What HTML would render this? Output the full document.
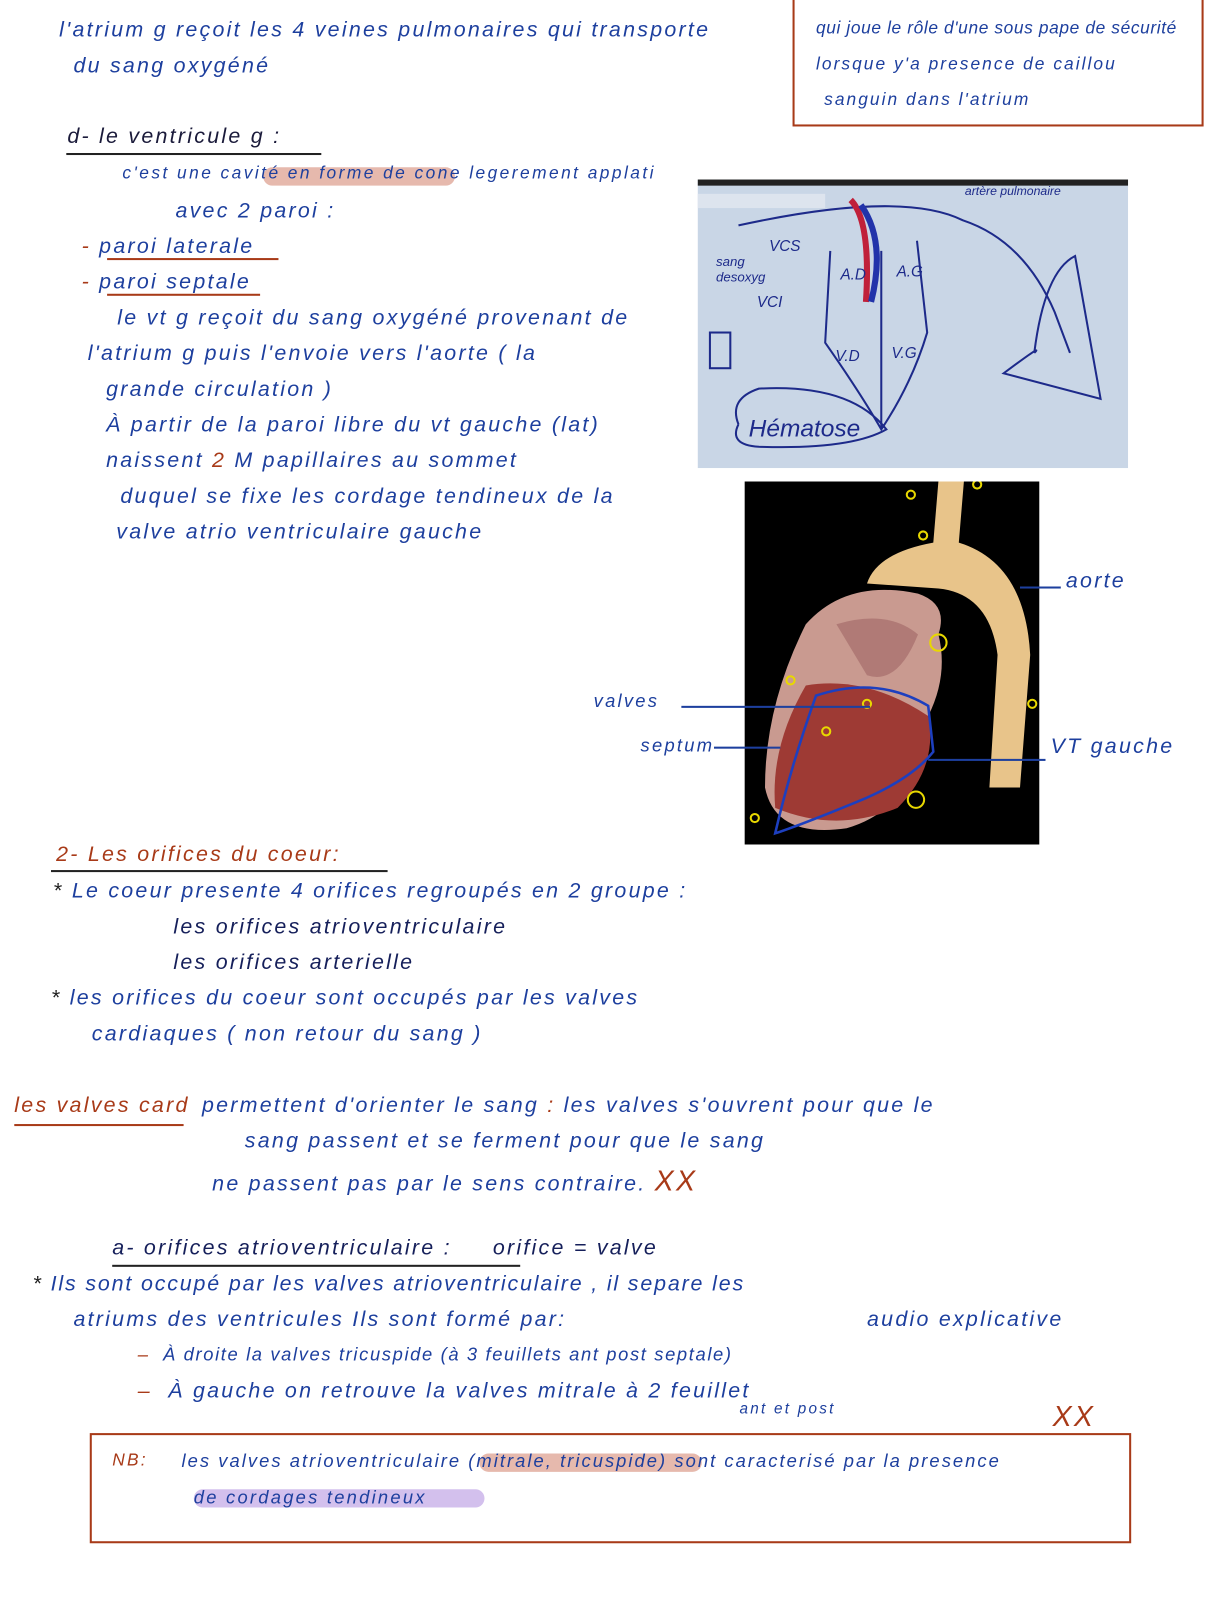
<!DOCTYPE html>
<html><head><meta charset="utf-8"><style>
body{margin:0;width:1224px;height:1607px;background:#fff;position:relative;overflow:hidden;font-family:"Liberation Sans",sans-serif;font-style:italic}
#w{position:absolute;left:0;top:0;width:1200px;height:1575px;transform:scale(1.02);transform-origin:0 0}
.t{position:absolute;color:#1d3f9e;font-size:21px;white-space:nowrap;letter-spacing:2.2px}
.r{color:#a83a18}
.ul{position:absolute;height:2px;background:#5a1f10}
</style></head><body><div id="w">
<div class="t" style="left:58px;top:18px">l'atrium g reçoit les 4 veines pulmonaires qui transporte</div>
<div class="t" style="left:72px;top:53px">du sang oxygéné</div>
<div style="position:absolute;left:777px;top:-2px;width:399px;height:122px;border:2px solid #a83a18"></div>
<div class="t" style="left:800px;top:18px;font-size:17px;letter-spacing:.6px">qui joue le rôle d'une sous pape de sécurité</div>
<div class="t" style="left:800px;top:53px;font-size:17px;letter-spacing:2px">lorsque y'a presence de caillou</div>
<div class="t" style="left:808px;top:88px;font-size:17px;letter-spacing:2px">sanguin dans l'atrium</div>

<div class="t" style="left:66px;top:122px;color:#1a1a3a">d- le ventricule g :</div>
<div class="ul" style="left:65px;top:150px;width:250px;background:#222"></div>
<div style="position:absolute;left:258px;top:164px;width:188px;height:18px;background:#e0a898;border-radius:9px;opacity:.8"></div>
<div class="t" style="left:120px;top:160px;font-size:17px;letter-spacing:2.4px">c'est une cavité en forme de cone legerement applati</div>
<div class="t" style="left:172px;top:195px">avec 2 paroi :</div>
<div class="t" style="left:80px;top:230px"><span class="r">-</span> paroi laterale</div>
<div class="ul" style="left:105px;top:253px;width:168px;background:#a83a18"></div>
<div class="t" style="left:80px;top:265px"><span class="r">-</span> paroi septale</div>
<div class="ul" style="left:105px;top:288px;width:150px;background:#a83a18"></div>
<div class="t" style="left:115px;top:300px">le vt g reçoit du sang oxygéné provenant de</div>
<div class="t" style="left:86px;top:335px">l'atrium g puis l'envoie vers l'aorte ( la</div>
<div class="t" style="left:104px;top:370px">grande circulation )</div>
<div class="t" style="left:104px;top:405px">À partir de la paroi libre du vt gauche (lat)</div>
<div class="t" style="left:104px;top:440px">naissent <span class="r">2</span> M papillaires au sommet</div>
<div class="t" style="left:118px;top:475px">duquel se fixe les cordage tendineux de la</div>
<div class="t" style="left:114px;top:510px">valve atrio ventriculaire gauche</div>

<svg style="position:absolute;left:684px;top:176px" width="422" height="283">
<rect width="422" height="283" fill="#c9d6e6"/><rect width="422" height="6" fill="#222"/>
<rect x="0" y="14" width="125" height="14" fill="#dde4ee"/>
<g fill="none" stroke="#1d2a8a" stroke-width="2">
<path d="M40 45 Q200 10 260 40 Q320 60 350 130 L365 170"/>
<path d="M130 70 L125 160 Q160 210 180 245 Q210 200 225 150 L215 60"/>
<path d="M180 70 L180 245"/>
<path d="M330 170 Q340 90 370 75 L395 215 L300 190 Q340 160 330 170"/>
<path d="M40 240 Q30 215 60 205 Q150 200 185 245 Q150 265 60 262 Q30 260 40 240"/>
<rect x="12" y="150" width="20" height="35"/>
</g>
<path d="M150 20 Q170 40 165 120" stroke="#c0203a" stroke-width="6" fill="none"/>
<path d="M160 25 Q185 60 170 120" stroke="#2233aa" stroke-width="6" fill="none"/>
<g fill="#1d2a8a" font-family="Liberation Sans" font-size="15">
<text x="70" y="70">VCS</text><text x="18" y="85" font-size="13">sang</text><text x="18" y="100" font-size="13">desoxyg</text>
<text x="58" y="125">VCI</text><text x="140" y="98">A.D</text><text x="195" y="95">A.G</text>
<text x="135" y="178">V.D</text><text x="190" y="175">V.G</text>
<text x="50" y="252" font-size="24">Hématose</text>
<text x="262" y="15" font-size="12">artère pulmonaire</text></g>
</svg>

<svg style="position:absolute;left:730px;top:472px" width="289" height="356">
<rect width="289" height="356" fill="#000"/>
<path d="M190 0 L215 0 L210 60 Q275 80 280 170 L270 300 L240 300 L248 170 Q240 110 190 105 L120 100 Q130 70 185 60Z" fill="#e8c48a"/>
<path d="M60 140 Q100 95 170 110 Q200 120 190 150 Q200 190 180 230 Q170 320 100 340 Q30 350 20 300 Q20 220 60 140Z" fill="#c99a90"/>
<path d="M60 200 Q120 190 180 230 Q190 280 150 320 Q90 345 30 320 Q25 260 60 200Z" fill="#9e3a34"/>
<path d="M90 140 Q140 125 170 150 Q150 200 120 190Z" fill="#b07a76"/>
<path d="M70 210 Q130 190 180 220 L185 265 Q165 290 120 310 Q60 335 30 345 Q45 280 70 210Z" fill="none" stroke="#1d3fbf" stroke-width="2.5"/>
<g fill="none" stroke="#e8d800" stroke-width="2"><circle cx="190" cy="158" r="8"/><circle cx="168" cy="312" r="8"/><circle cx="120" cy="218" r="4"/><circle cx="80" cy="245" r="4"/><circle cx="45" cy="195" r="4"/><circle cx="163" cy="13" r="4"/><circle cx="175" cy="53" r="4"/><circle cx="228" cy="3" r="4"/><circle cx="282" cy="218" r="4"/><circle cx="10" cy="330" r="4"/></g>
</svg>
<div class="ul" style="left:1000px;top:575px;width:40px;background:#1d3f9e"></div>
<div class="t" style="left:1045px;top:558px">aorte</div>
<div class="t" style="left:582px;top:677px;font-size:18px">valves</div>
<div class="ul" style="left:668px;top:692px;width:185px;background:#1d3f9e"></div>
<div class="t" style="left:628px;top:721px;font-size:18px">septum</div>
<div class="ul" style="left:700px;top:732px;width:65px;background:#1d3f9e"></div>
<div class="ul" style="left:910px;top:744px;width:115px;background:#1d3f9e"></div>
<div class="t" style="left:1030px;top:720px">VT gauche</div>

<div class="t r" style="left:55px;top:826px">2- Les orifices du coeur:</div>
<div class="ul" style="left:50px;top:853px;width:330px;background:#222"></div>
<div class="t" style="left:52px;top:862px"><span style="color:#222">*</span> Le coeur presente 4 orifices regroupés en 2 groupe :</div>
<div class="t" style="left:170px;top:897px;color:#151f5a">les orifices atrioventriculaire</div>
<div class="t" style="left:170px;top:932px;color:#151f5a">les orifices arterielle</div>
<div class="t" style="left:50px;top:967px"><span style="color:#222">*</span> les orifices du coeur sont occupés par les valves</div>
<div class="t" style="left:90px;top:1002px">cardiaques ( non retour du sang )</div>

<div class="t r" style="left:14px;top:1072px">les valves card</div>
<div class="ul" style="left:14px;top:1102px;width:166px;background:#a83a18"></div>
<div class="t" style="left:198px;top:1072px">permettent d'orienter le sang <span class="r">:</span> les valves s'ouvrent pour que le</div>
<div class="t" style="left:240px;top:1107px">sang passent et se ferment pour que le sang</div>
<div class="t" style="left:208px;top:1142px">ne passent pas par le sens contraire. <span class="r" style="font-size:28px">XX</span></div>

<div class="t" style="left:110px;top:1212px;color:#151f5a">a- orifices atrioventriculaire :&nbsp;&nbsp;&nbsp;&nbsp; orifice = valve</div>
<div class="ul" style="left:110px;top:1240px;width:400px;background:#222"></div>
<div class="t" style="left:32px;top:1247px;letter-spacing:1.8px"><span style="color:#222">*</span> Ils sont occupé par les valves atrioventriculaire , il separe les</div>
<div class="t" style="left:72px;top:1282px">atriums des ventricules Ils sont formé par:</div>
<div class="t" style="left:850px;top:1282px">audio explicative</div>
<div class="t" style="left:135px;top:1318px;font-size:18px;letter-spacing:1.6px"><span class="r">–</span> &nbsp;À droite la valves tricuspide (à 3 feuillets ant post septale)</div>
<div class="t" style="left:135px;top:1352px"><span class="r">–</span> &nbsp;À gauche on retrouve la valves mitrale à 2 feuillet</div>
<div class="t" style="left:725px;top:1373px;font-size:15px">ant et post</div>
<div class="t r" style="left:1032px;top:1373px;font-size:28px">XX</div>

<div style="position:absolute;left:88px;top:1405px;width:1017px;height:104px;border:2px solid #a83a18"></div>
<div style="position:absolute;left:470px;top:1425px;width:218px;height:18px;background:#e0a898;border-radius:9px;opacity:.8"></div>
<div style="position:absolute;left:190px;top:1460px;width:285px;height:18px;background:#c8b0e8;border-radius:9px;opacity:.8"></div>
<div class="t r" style="left:110px;top:1422px;font-size:17px">NB:</div>
<div class="t" style="left:178px;top:1422px;font-size:18px;letter-spacing:2px">les valves atrioventriculaire (mitrale, tricuspide) sont caracterisé par la presence</div>
<div class="t" style="left:190px;top:1458px;font-size:18px">de cordages tendineux</div>
</div></body></html>
